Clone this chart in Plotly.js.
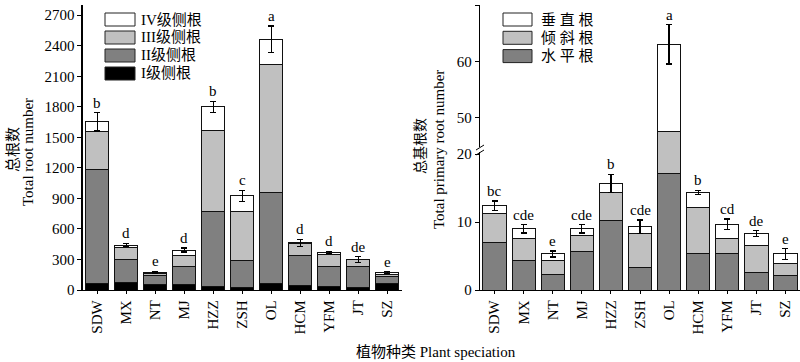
<!DOCTYPE html>
<html>
<head>
<meta charset="utf-8">
<script src="https://cdn.plot.ly/plotly-3.0.1.min.js"></script>
<style>html,body{margin:0;padding:0;background:#fff;}#chart{width:800px;height:362px;}</style>
</head>
<body>
<div id="chart"></div>
<script>
// ---- data ----
const categories = ['SDW','MX','NT','MJ','HZZ','ZSH','OL','HCM','YFM','JT','SZ'];

// left panel: lateral roots by order (segment values)
const leftNames = ['I级侧根','II级侧根','III级侧根','IV级侧根'];
const lateralI   = [65, 72, 56, 56, 33, 27, 59, 43, 33, 27, 65];
const lateralII  = [1120, 232, 91, 176, 741, 267, 896, 294, 196, 202, 66];
const lateralIII = [376, 111, 13, 105, 797, 480, 1261, 118, 121, 69, 23];
const lateralIV  = [92, 27, 15, 56, 229, 152, 248, 7, 20, 3, 16];
const leftErr    = [90, 15, 8, 20, 55, 55, 130, 38, 12, 28, 8];
const leftSig    = ['b','d','e','d','b','c','a','d','d','de','e'];
const leftTicks  = [0,300,600,900,1200,1500,1800,2100,2400,2700];

// right panel: primary roots by angle (segment values)
const rightNames = ['水平根','倾斜根','垂直根'];
const horizontalR = [7.0, 4.3, 2.3, 5.6, 10.3, 3.3, 17.1, 5.3, 5.3, 2.6, 2.2];
const obliqueR    = [4.3, 3.3, 2.0, 2.4, 4.1, 5.0, 30.5, 6.8, 2.3, 4.0, 1.7];
const verticalR   = [1.1, 1.4, 1.0, 1.0, 1.3, 1.0, 15.4, 2.3, 2.1, 1.7, 1.4];
const rightErr    = [0.7, 0.6, 0.45, 0.6, 1.3, 1.0, 3.5, 0.3, 0.75, 0.45, 0.8];
const rightSig    = ['bc','cde','e','cde','b','cde','a','b','cd','de','e'];
const rightLowTicks = [0,10,20];
const rightHighTicks = [50,60,70];

// ---- style ----
const leftColors  = ['#000000','#808080','#c0c0c0','#ffffff'];
const rightColors = ['#808080','#c0c0c0','#ffffff'];
const serif = 'Liberation Serif, Times New Roman, serif';
const mixed = 'Liberation Serif, Noto Sans CJK SC, serif';
const cjk = 'Noto Sans CJK SC, sans-serif';
const W = 800, H = 362;
const px = x => x / W, py = y => 1 - y / H;

const leftSeries = [lateralI, lateralII, lateralIII, lateralIV];
const rightSeries = [horizontalR, obliqueR, verticalR];

const traces = [];
leftSeries.forEach((vals, i) => {
  const t = {
    type: 'bar', x: categories, y: vals, name: leftNames[i],
    xaxis: 'x', yaxis: 'y', showlegend: false,
    marker: {color: leftColors[i], line: {color: '#111', width: 1}},
    hoverinfo: 'x+y+name'
  };
  if (i === leftSeries.length - 1) {
    t.error_y = {type: 'data', array: leftErr, visible: true, color: '#000', thickness: 1.2, width: 3};
  }
  traces.push(t);
});
[['x2','y2'],['x3','y3']].forEach(([xa, ya]) => {
  rightSeries.forEach((vals, i) => {
    const t = {
      type: 'bar', x: categories, y: vals, name: rightNames[i],
      xaxis: xa, yaxis: ya, showlegend: false,
      marker: {color: rightColors[i], line: {color: '#111', width: 1}},
      hoverinfo: 'x+y+name'
    };
    if (i === rightSeries.length - 1) {
      t.error_y = {type: 'data', array: rightErr, visible: true, color: '#000', thickness: 1.2, width: 3};
    }
    traces.push(t);
  });
});

// totals for significance letters
const sum = (arrs, k) => arrs.reduce((s, a) => s + a[k], 0);
const annotations = [];
categories.forEach((c, k) => {
  annotations.push({
    x: c, y: sum(leftSeries, k) + leftErr[k], xref: 'x', yref: 'y',
    text: leftSig[k], showarrow: false, yanchor: 'bottom', yshift: 0,
    font: {family: serif, size: 15, color: '#000'}
  });
  const tot = sum(rightSeries, k) + rightErr[k];
  const upper = tot > 40;
  annotations.push({
    x: c, y: tot, xref: upper ? 'x3' : 'x2', yref: upper ? 'y3' : 'y2',
    text: rightSig[k], showarrow: false, yanchor: 'bottom', yshift: 0,
    font: {family: serif, size: 15, color: '#000'}
  });
});

// axis titles
const rot = (x, y, text, font) => annotations.push({x: px(x), y: py(y), xref: 'paper', yref: 'paper',
  xanchor: 'center', yanchor: 'middle', text: text, textangle: -90, showarrow: false, font: font});
rot(12, 150, '总根数', {family: cjk, size: 15, color: '#000'});
rot(28, 152, 'Total root number', {family: serif, size: 15, color: '#000'});
rot(419, 146, '总基根数', {family: cjk, size: 14, color: '#000'});
rot(439, 149, 'Total primary root number', {family: serif, size: 15, color: '#000'});
annotations.push({x: px(436), y: py(352), xref: 'paper', yref: 'paper', xanchor: 'center', yanchor: 'middle',
  text: '植物种类 Plant speciation', showarrow: false, font: {family: mixed, size: 15, color: '#000'}});

// legends (boxes + labels)
const shapes = [];
const leftLegendOrder = [3,2,1,0];
leftLegendOrder.forEach((si, r) => {
  const yc = 19.5 + r * 18;
  shapes.push({type: 'rect', xref: 'paper', yref: 'paper', x0: px(105), x1: px(135), y0: py(yc + 6.5), y1: py(yc - 6.5),
    fillcolor: leftColors[si], line: {color: '#222', width: 1}});
  annotations.push({x: px(139), y: py(yc), xref: 'paper', yref: 'paper', xanchor: 'left', yanchor: 'middle',
    showarrow: false, text: leftNames[si], font: {family: mixed, size: 15, color: '#000'}});
});
const rightLegendOrder = [2,1,0];
rightLegendOrder.forEach((si, r) => {
  const yc = 19.5 + r * 18.3;
  shapes.push({type: 'rect', xref: 'paper', yref: 'paper', x0: px(503), x1: px(532), y0: py(yc + 6.5), y1: py(yc - 6.5),
    fillcolor: rightColors[si], line: {color: '#222', width: 1}});
  annotations.push({x: px(539), y: py(yc), xref: 'paper', yref: 'paper', xanchor: 'left', yanchor: 'middle',
    showarrow: false, text: rightNames[si].split('').join(' '), font: {family: mixed, size: 15, color: '#000'}});
});

// axis break marks on right y axis
shapes.push({type: 'line', xref: 'paper', yref: 'paper', x0: px(480), x1: px(480), y0: py(147), y1: py(152), line: {color: '#fff', width: 3}});
shapes.push({type: 'line', xref: 'paper', yref: 'paper', x0: px(476), x1: px(484), y0: py(150), y1: py(145), line: {color: '#000', width: 1}});
shapes.push({type: 'line', xref: 'paper', yref: 'paper', x0: px(476), x1: px(484), y0: py(155), y1: py(150), line: {color: '#000', width: 1}});

const axisBase = {
  showline: true, linecolor: '#000', linewidth: 1.3, showgrid: false, zeroline: false,
  ticks: 'outside', ticklen: 4, tickcolor: '#000', tickwidth: 1,
  tickfont: {family: serif, size: 15, color: '#000'}, fixedrange: true
};

const layout = {
  width: W, height: H, margin: {l: 0, r: 0, t: 0, b: 0},
  paper_bgcolor: '#fff', plot_bgcolor: 'rgba(0,0,0,0)',
  barmode: 'stack', bargap: 0.2, showlegend: false,
  xaxis: Object.assign({}, axisBase, {domain: [px(82.7), px(401.7)], anchor: 'y', range: [-0.5, 10.5],
    type: 'category', tickangle: -90, ticklen: 3}),
  yaxis: Object.assign({}, axisBase, {domain: [py(290), py(5)], anchor: 'x', range: [0, 2800],
    tickmode: 'array', tickvals: leftTicks}),
  xaxis2: Object.assign({}, axisBase, {domain: [px(480), px(800)], anchor: 'y2', range: [-0.5, 10.5],
    type: 'category', tickangle: -90, ticklen: 3}),
  yaxis2: Object.assign({}, axisBase, {domain: [py(290), py(149)], anchor: 'x2', range: [0, 20.75],
    tickmode: 'array', tickvals: rightLowTicks}),
  xaxis3: {domain: [px(480), px(800)], anchor: 'y3', range: [-0.5, 10.5], type: 'category', visible: false, matches: 'x2', fixedrange: true},
  yaxis3: Object.assign({}, axisBase, {domain: [py(149), py(5)], anchor: 'x3', range: [44.4, 70],
    tickmode: 'array', tickvals: rightHighTicks}),
  annotations: annotations, shapes: shapes
};

Plotly.newPlot('chart', traces, layout, {displayModeBar: false, staticPlot: true});
</script>
</body>
</html>
